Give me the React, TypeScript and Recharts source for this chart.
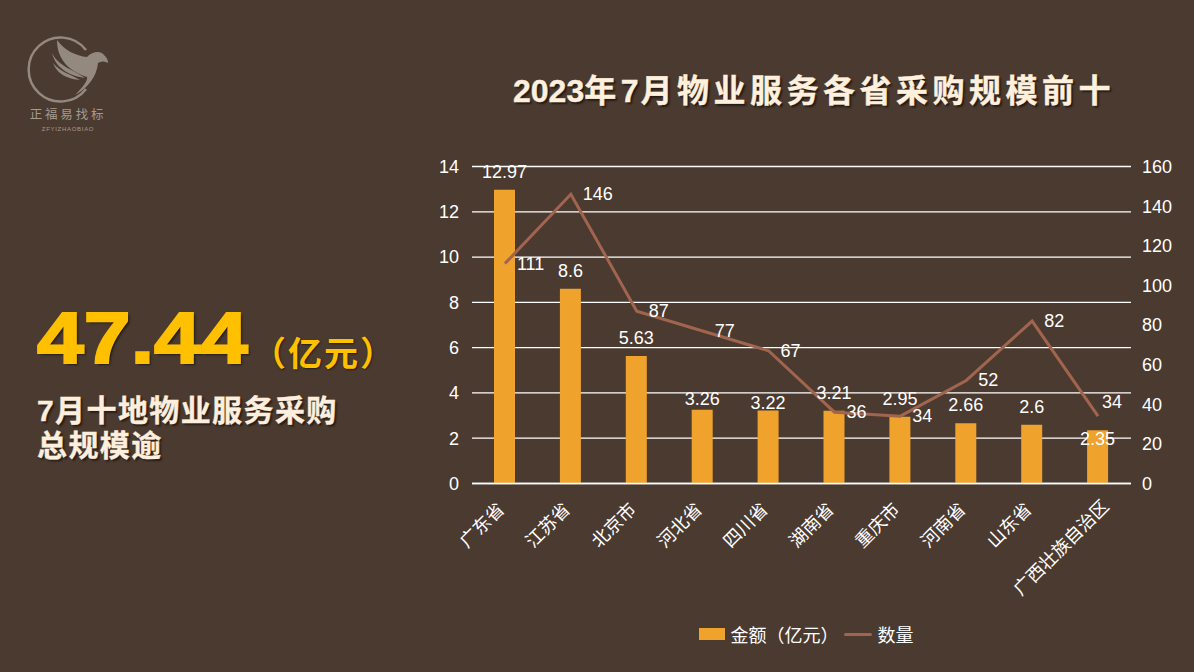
import React from 'react';
import {
  ComposedChart,
  Bar,
  Line,
  XAxis,
  YAxis,
  CartesianGrid,
  LabelList,
  Legend
} from 'recharts';

const provinces = ['广东省', '江苏省', '北京市', '河北省', '四川省', '湖南省', '重庆市', '河南省', '山东省', '广西壮族自治区'];
const amounts = [12.97, 8.6, 5.63, 3.26, 3.22, 3.21, 2.95, 2.66, 2.6, 2.35];
const counts = [111, 146, 87, 77, 67, 36, 34, 52, 82, 34];
const amountTicks = [0, 2, 4, 6, 8, 10, 12, 14];
const countTicks = [0, 20, 40, 60, 80, 100, 120, 140, 160];

const chartData = provinces.map((name, i) => ({
  name,
  amount: amounts[i],
  count: counts[i]
}));

const BG = '#4b3a30';
const BAR = '#efa22c';
const LINE = '#a1654f';
const CJK = '"Liberation Sans", "Noto Sans CJK SC", sans-serif';

const abs = (left: number, top: number): React.CSSProperties => ({
  position: 'absolute',
  left,
  top,
  whiteSpace: 'nowrap',
  fontFamily: CJK
});

// a few labels were nudged by hand in the original slide
const barLabelDy: Record<number, number> = { 3: 7, 4: 10, 9: 27 };

const BarValueLabel = (props: any) => {
  const { x, y, width, value, index } = props;
  return (
    <text x={x + width / 2} y={y - 12 + (barLabelDy[index] || 0)} textAnchor="middle" fill="#fff" fontSize={18}>
      {value}
    </text>
  );
};

const LineValueLabel = (props: any) => {
  const { x, y, value, index } = props;
  const last = index === counts.length - 1;
  return (
    <text x={x + (last ? 4 : 12)} y={y + 6 - (last ? 14 : 0)} fill="#fff" fontSize={18}>
      {value}
    </text>
  );
};

const CategoryTick = (props: any) => {
  const { x, y, payload } = props;
  // the long label sits further right, as it does on the slide
  const long = payload.value.length > 3;
  const tx = x + (long ? 12 : 0.5);
  const ty = y + (long ? 22 : 25);
  return (
    <text x={tx} y={ty} textAnchor="end" fill="#fff" fontSize={18} transform={`rotate(-45 ${tx} ${ty})`}>
      {payload.value}
    </text>
  );
};

const ChartLegend = () => (
  <div style={{ display: 'flex', alignItems: 'center', justifyContent: 'center', color: '#fff', fontSize: 18, fontFamily: CJK, height: 24, paddingLeft: 9 }}>
    <span style={{ width: 26, height: 12, background: BAR, marginRight: 6 }} />
    <span style={{ marginRight: 5 }}>金额（亿元）</span>
    <span style={{ width: 28, height: 3, borderRadius: 2, background: LINE, marginRight: 6 }} />
    <span>数量</span>
  </div>
);

const Logo = () => (
  <svg width={130} height={140} style={{ position: 'absolute', left: 0, top: 0 }}>
    <path d="M86 50 A32 32 0 1 0 86 89" fill="none" stroke="#94897f" strokeWidth={2.5} />
    <path d="M57 40 C64 50 76 56 87 57 C92 52 100 50 104 55 C107 58 108 60 108 63 C105 61 102 61 98 63 C97 76 88 88 75 95 C84 86 88 80 87 77 C72 72 57 62 57 40 Z" fill="#94897f" />
    <path d="M52 53 C58 66 74 70 85 78 C72 76 56 70 52 53 Z" fill="#94897f" />
    <path d="M53 63 C60 72 70 74 80 80 C70 79 58 76 53 63 Z" fill="#94897f" />
    <text x={68} y={119} textAnchor="middle" fontSize={12.5} letterSpacing={2.8} fill="#a39a90" fontFamily="Noto Sans CJK SC">正福易找标</text>
    <text x={68} y={131} textAnchor="middle" fontSize={6} letterSpacing={0.7} fill="#a39a90" fontFamily="Liberation Sans">ZFYIZHAOBIAO</text>
  </svg>
);

const App: React.FC = () => {
  return (
    <div style={{ position: 'absolute', left: 0, top: 0, width: 1194, height: 672, background: BG, overflow: 'hidden' }}>
      <Logo />
      <div style={{ ...abs(513, 65), fontSize: 32, fontWeight: 700, letterSpacing: 4.5, color: '#fff0de', WebkitTextStroke: '0.4px #fff0de', textShadow: '2px 2px 2px rgba(0,0,0,0.55)' }}>
        <span style={{ letterSpacing: 0 }}>2023</span>年<span style={{ letterSpacing: 2 }}>7</span>月物业服务各省采购规模前十
      </div>
      <div style={{ ...abs(37, 297), fontSize: 72, fontWeight: 700, color: '#ffc000', WebkitTextStroke: '2px #ffc000', textShadow: '2px 2px 2px rgba(0,0,0,0.5)', transform: 'scaleX(1.17)', transformOrigin: 'left center' }}>
        47.44
      </div>
      <div style={{ ...abs(252, 327), fontSize: 34, fontWeight: 700, letterSpacing: 2, color: '#ffc000', textShadow: '1px 1px 2px rgba(0,0,0,0.5)' }}>
        （亿元）
      </div>
      <div style={{ ...abs(37, 393), fontSize: 30, fontWeight: 700, lineHeight: '35px', letterSpacing: 1.4, color: '#fdeedd', WebkitTextStroke: '0.4px #fdeedd', textShadow: '2px 2px 2px rgba(0,0,0,0.5)' }}>
        7月十地物业服务采购<br />总规模逾
      </div>
      <ComposedChart
        width={1194}
        height={672}
        data={chartData}
        barSize={21}
        margin={{ top: 166.5, right: 3, bottom: 26, left: 412 }}
        style={{ position: 'absolute', left: 0, top: 0, fontFamily: CJK }}
      >
        <CartesianGrid vertical={false} stroke="#ffffff" strokeWidth={1.3} yAxisId="left" />
        <XAxis
          dataKey="name"
          interval={0}
          height={138.5}
          tick={<CategoryTick />}
          tickLine={false}
          tickSize={0}
          axisLine={{ stroke: '#fff', strokeWidth: 1.3 }}
        />
        <YAxis
          yAxisId="left"
          width={60}
          domain={[0, 14]}
          ticks={amountTicks}
          tick={{ fill: '#fff', fontSize: 18 }}
          tickLine={false}
          tickSize={0}
          axisLine={false}
          tickMargin={13}
        />
        <YAxis
          yAxisId="right"
          orientation="right"
          width={60}
          domain={[0, 160]}
          ticks={countTicks}
          tick={{ fill: '#fff', fontSize: 18 }}
          tickLine={false}
          tickSize={0}
          axisLine={false}
          tickMargin={11}
        />
        <Bar yAxisId="left" dataKey="amount" name="金额（亿元）" fill={BAR} isAnimationActive={false}>
          <LabelList dataKey="amount" content={<BarValueLabel />} />
        </Bar>
        <Line
          yAxisId="right"
          type="linear"
          dataKey="count"
          name="数量"
          stroke={LINE}
          strokeWidth={3}
          dot={false}
          isAnimationActive={false}
        >
          <LabelList dataKey="count" content={<LineValueLabel />} />
        </Line>
        <Legend content={<ChartLegend />} />
      </ComposedChart>
    </div>
  );
};

export default App;
